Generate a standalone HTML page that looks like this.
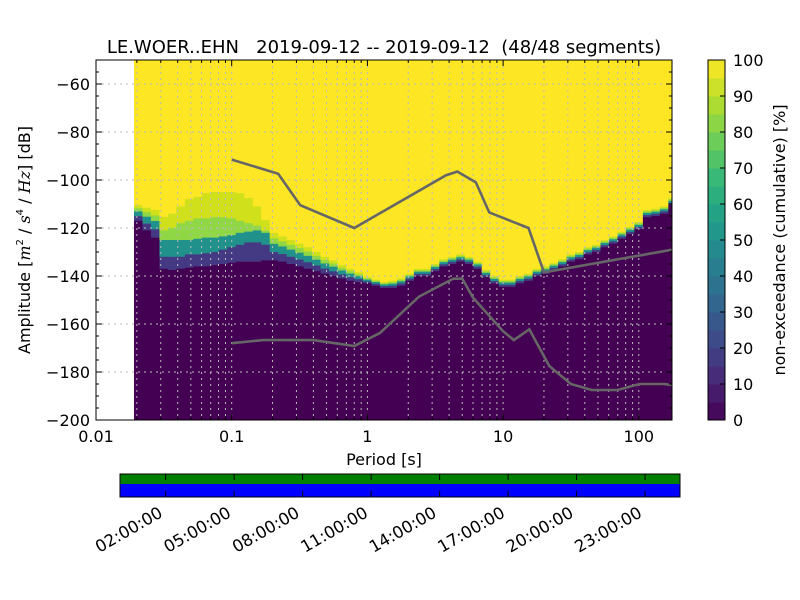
<!DOCTYPE html>
<html><head><meta charset="utf-8"><style>
body{margin:0;background:#fff}
svg{display:block;font-family:"DejaVu Sans","Liberation Sans",sans-serif}
</style></head><body>
<svg id="chart" width="800" height="600" viewBox="0 0 800 600" xmlns="http://www.w3.org/2000/svg">
<rect width="800" height="600" fill="#fff"/>
<text x="384" y="53" font-size="18" text-anchor="middle" style="white-space:pre">LE.WOER..EHN   2019-09-12 -- 2019-09-12  (48/48 segments)</text>
<g id="heat"></g>
<g id="grid"></g>
<g id="models"></g>
<rect x="96" y="60" width="576" height="360" fill="none" stroke="#000" stroke-width="1"/>
<g id="axes"></g>
<text x="384" y="465" font-size="16" text-anchor="middle">Period [s]</text>
<text transform="translate(30,240) rotate(-90)" font-size="16" text-anchor="middle">Amplitude [<tspan font-family="DejaVu Serif" font-style="italic">m</tspan><tspan font-size="10" dy="-7">2</tspan><tspan dy="7"> / </tspan><tspan font-family="DejaVu Serif" font-style="italic">s</tspan><tspan font-size="10" dy="-7">4</tspan><tspan dy="7"> / </tspan><tspan font-family="DejaVu Serif" font-style="italic">Hz</tspan>] [dB]</text>
<g id="cbar"></g>
<text transform="translate(785,240) rotate(-90)" font-size="16" text-anchor="middle">non-exceedance (cumulative) [%]</text>
<g id="timeline"></g>
</svg>
<script>
const colStartLog = -1.72;
const colStep = 1/16;
const q90 = [-110.5,-111.5,-112.5,-115.4,-114,-111,-108,-107,-105.5,-105,-105,-105,-105.5,-107.5,-111,-116.7,-122,-123.5,-125,-126.5,-128,-130,-132,-133.5,-135.5,-137,-138.5,-140.5,-141.5,-142.5,-142,-141,-139,-137,-137,-135,-133,-132,-131,-132,-134,-137.5,-140,-141.5,-141.5,-140,-139,-137,-136,-134.5,-133,-131,-130,-128,-127,-125,-123.5,-121.5,-119.5,-117.5,-112.5,-112,-111,-107.5];
const q10 = [-117,-121,-124,-137,-137.5,-137,-136.5,-136,-136,-135.5,-135,-134.5,-134,-134,-134,-133.5,-133.5,-134,-135,-136,-137,-138,-139,-140,-141,-142,-142.5,-143,-144,-145,-145,-144,-142,-140,-140,-138,-136,-135,-134,-135,-137,-140.5,-143,-144.5,-144.5,-143,-142,-140,-139,-137.5,-136,-134,-133,-131,-130,-128,-126.5,-124.5,-122.5,-120.5,-115.5,-115,-114,-110.5];
const q80 = [null,null,null,-121,-120,-118,-117,-116,-116,-115.5,-115.5,-116,-117,-118,-119,-121];
const q60 = [null,null,null,-125,-125,-125,-125,-124.5,-124,-124,-123.5,-123,-122,-121.5,-121,-122];
const q30 = [null,null,null,-132,-132,-132,-131,-131,-130.5,-130,-129,-128,-127,-126,-126,-127];
const nhnmPeriod = [0.1,0.22,0.32,0.8,3.8,4.6,6.3,7.9,15.4,20,178];
const nhnmDb = [-91.5,-97.4,-110.5,-120,-98,-96.5,-101,-113.5,-120,-138.5,-129];
const nlnmPeriod = [0.1,0.17,0.4,0.8,1.24,2.4,4.3,5,6,10,12,15.6,21.9,31.6,45,70,101,154,178];
const nlnmDb = [-168,-166.7,-166.7,-169.2,-163.7,-148.6,-141.1,-141.1,-149,-163,-166.7,-162.2,-177.5,-185,-187.5,-187.5,-185,-185,-185.5];
const xTicks = [0.01,0.1,1,10,100];
const xTickLabels = ["0.01","0.1","1","10","100"];
const yTicks = [-60,-80,-100,-120,-140,-160,-180,-200];
const cbTicks = [0,10,20,30,40,50,60,70,80,90,100];
const timeTicks = [2,5,8,11,14,17,20,23];
const timeLabels = ["02:00:00","05:00:00","08:00:00","11:00:00","14:00:00","17:00:00","20:00:00","23:00:00"];

const NS="http://www.w3.org/2000/svg";
const L=96,R=672,T=60,B=420;
const xLog=l=>L+(l+2)*135.7;
const xs=p=>xLog(Math.log10(p));
const ys=d=>84+(-60-d)*2.4;
function mk(tag,attrs,parent){const e=document.createElementNS(NS,tag);for(const k in attrs)e.setAttribute(k,attrs[k]);parent.appendChild(e);return e;}
const vir=[[68,1,84],[72,40,120],[62,74,137],[49,104,142],[38,130,142],[31,158,137],[53,183,121],[110,206,88],[181,222,43],[253,231,37]];
function viridis(t){const f=t*(vir.length-1),i=Math.min(vir.length-2,Math.floor(f)),u=f-i;const c=vir[i].map((v,k)=>Math.round(v+(vir[i+1][k]-v)*u));return `rgb(${c})`;}

const heat=document.getElementById('heat');
const clip=mk('clipPath',{id:'pc'},mk('defs',{},heat));
mk('rect',{x:L,y:T,width:R-L,height:B-T},clip);
const hg=mk('g',{'clip-path':'url(#pc)'},heat);
for(let i=0;i<q90.length;i++){
  const x0=xLog(colStartLog+i*colStep), x1=xLog(colStartLog+(i+1)*colStep)+0.5;
  const a=q90[i], b=q10[i], d=a-b;
  const b80=q80[i]!=null?q80[i]:a-0.2*d, b60=q60[i]!=null?q60[i]:a-0.4*d, b30=q30[i]!=null?q30[i]:a-0.7*d;
  const bands=[[-50,a,'#fde725'],[a,b80,'#d0e11c'],[b80,b60,'#8fd744'],[b60,b30,'#21918c'],[b30,b,'#443983'],[b,-200,'#440154']];
  bands.forEach(bd=>{const y0=ys(bd[0]),y1=ys(bd[1]);if(y1>y0){
    const r=mk('rect',{x:x0,y:y0,width:x1-x0,height:y1-y0+0.3,fill:bd[2]},hg);
    
    }});
}
const grid=document.getElementById('grid');
for(let dec=-2;dec<=2;dec++)for(let m=1;m<10;m++){const x=xs(m*Math.pow(10,dec));if(x<=L+0.5||x>=R)continue;
  mk('line',{x1:x,x2:x,y1:T,y2:B,stroke:'#bbb','stroke-width':1,'stroke-dasharray':'2,4'},grid);}
yTicks.forEach(v=>{const y=ys(v);if(y>T&&y<B)mk('line',{x1:L,x2:R,y1:y,y2:y,stroke:'#bbb','stroke-width':1,'stroke-dasharray':'2,4'},grid);});
const models=document.getElementById('models');
const mg=mk('g',{'clip-path':'url(#pc)'},models);
const l1=mk('polyline',{points:nhnmPeriod.map((p,i)=>xs(p)+','+ys(nhnmDb[i])).join(' '),fill:'none',stroke:'#666','stroke-width':2.6},mg);


const l2=mk('polyline',{points:nlnmPeriod.map((p,i)=>xs(p)+','+ys(nlnmDb[i])).join(' '),fill:'none',stroke:'#666','stroke-width':2.6},mg);



const axes=document.getElementById('axes');
xTicks.forEach((v,i)=>{const x=xs(v);
  mk('line',{x1:x,x2:x,y1:B,y2:B-6,stroke:'#000'},axes);mk('line',{x1:x,x2:x,y1:T,y2:T+6,stroke:'#000'},axes);
  const t=mk('text',{x:x,y:B+22,'font-size':16,'text-anchor':'middle'},axes);t.textContent=xTickLabels[i];
  
  });
for(let dec=-2;dec<=2;dec++)for(let m=2;m<10;m++){const x=xs(m*Math.pow(10,dec));if(x>=R)continue;
  mk('line',{x1:x,x2:x,y1:B,y2:B-3,stroke:'#000'},axes);mk('line',{x1:x,x2:x,y1:T,y2:T+3,stroke:'#000'},axes);}
for(let v=-200;v<=-50;v+=5){const y=ys(v);mk('line',{x1:L,x2:L+(v%20===0?6:3),y1:y,y2:y,stroke:'#000'},axes);mk('line',{x1:R,x2:R-(v%20===0?6:3),y1:y,y2:y,stroke:'#000'},axes);}
yTicks.forEach(v=>{const y=ys(v);const t=mk('text',{x:L-6,y:y+6,'font-size':16,'text-anchor':'end'},axes);t.textContent='\u2212'+Math.abs(v);
  
  });

const cb=document.getElementById('cbar');
const CX=708,CW=17;
for(let i=0;i<20;i++){const y0=420-(i+1)*18;
  const r=mk('rect',{x:CX,y:y0,width:CW,height:18.5,fill:viridis((i+0.5)/20)},cb);
  
  }
mk('rect',{x:CX,y:60,width:CW,height:360,fill:'none',stroke:'#000'},cb);
cbTicks.forEach(v=>{const y=420-v*3.6;mk('line',{x1:CX+CW,x2:CX+CW-5,y1:y,y2:y,stroke:'#000'},cb);
  const t=mk('text',{x:CX+CW+8,y:y+6,'font-size':16},cb);t.textContent=v;
  
  });

const tl=document.getElementById('timeline');
const g1=mk('rect',{x:120,y:474,width:560,height:10,fill:'#008000'},tl);


const b1=mk('rect',{x:120,y:484,width:560,height:13,fill:'#0000ff'},tl);


mk('rect',{x:120,y:474,width:560,height:23,fill:'none',stroke:'#000'},tl);
timeTicks.forEach((h,i)=>{const x=120+h*22.83;
  mk('line',{x1:x,x2:x,y1:474,y2:480,stroke:'#000'},tl);mk('line',{x1:x,x2:x,y1:497,y2:491,stroke:'#000'},tl);
  const t=mk('text',{x:0,y:0,'font-size':16.5,'text-anchor':'end',transform:`translate(${x-2},${516}) rotate(-30)`},tl);t.textContent=timeLabels[i];
  
  });
</script>
</body></html>
